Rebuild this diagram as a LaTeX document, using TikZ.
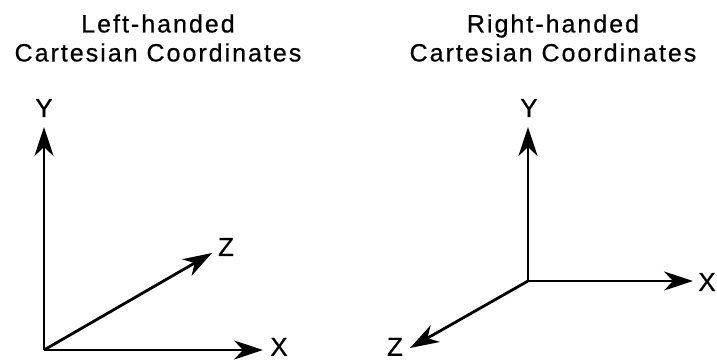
\documentclass[tikz,border=0pt]{standalone}
\usepackage{fontspec}
\setmainfont{Liberation Sans}[LetterSpace=8,FakeBold=0.6]
\usetikzlibrary{arrows.meta}
\begin{document}
\begin{tikzpicture}[x=1pt,y=1pt,
  axis/.style={line width=2.8pt, -{Stealth[length=29pt,width=19pt,inset=9pt]}},
  lbl/.style={font=\fontsize{26}{26}\selectfont, inner sep=0pt},
  ttl/.style={font=\fontsize{25}{29}\selectfont, align=center, inner sep=0pt}]
\useasboundingbox (0,0) rectangle (717,360);
% titles
\node[ttl] (tl) at (158,322) {Left-handed\\Cartesian Coordinates};
\node[ttl] (tr) at (553,322) {Right-handed\\Cartesian Coordinates};
% left system
\coordinate (lo) at (44,10);
\coordinate (ly) at (44,233);
\coordinate (lx) at (263,10);
\coordinate (lz) at (212,107);
\draw[axis] (lo) -- (ly);
\draw[axis] (lo) -- (lx);
\draw[axis] (lo) -- (lz);
\node[lbl] (lyl) at (44,252) {Y};
\node[lbl, anchor=south] (lxl) at (279,4) {X};
\node[lbl] (lzl) at (226,113) {Z};
% right system
\coordinate (ro) at (528,79);
\coordinate (ry) at (528,233);
\coordinate (rx) at (693,79);
\coordinate (rz) at (410,12);
\draw[axis] (ro) -- (ry);
\draw[axis] (ro) -- (rx);
\draw[axis] (ro) -- (rz);
\node[lbl] (ryl) at (529,252) {Y};
\node[lbl] (rxl) at (707,78) {X};
\node[lbl, anchor=south] (rzl) at (395,4) {Z};
\end{tikzpicture}
\end{document}
